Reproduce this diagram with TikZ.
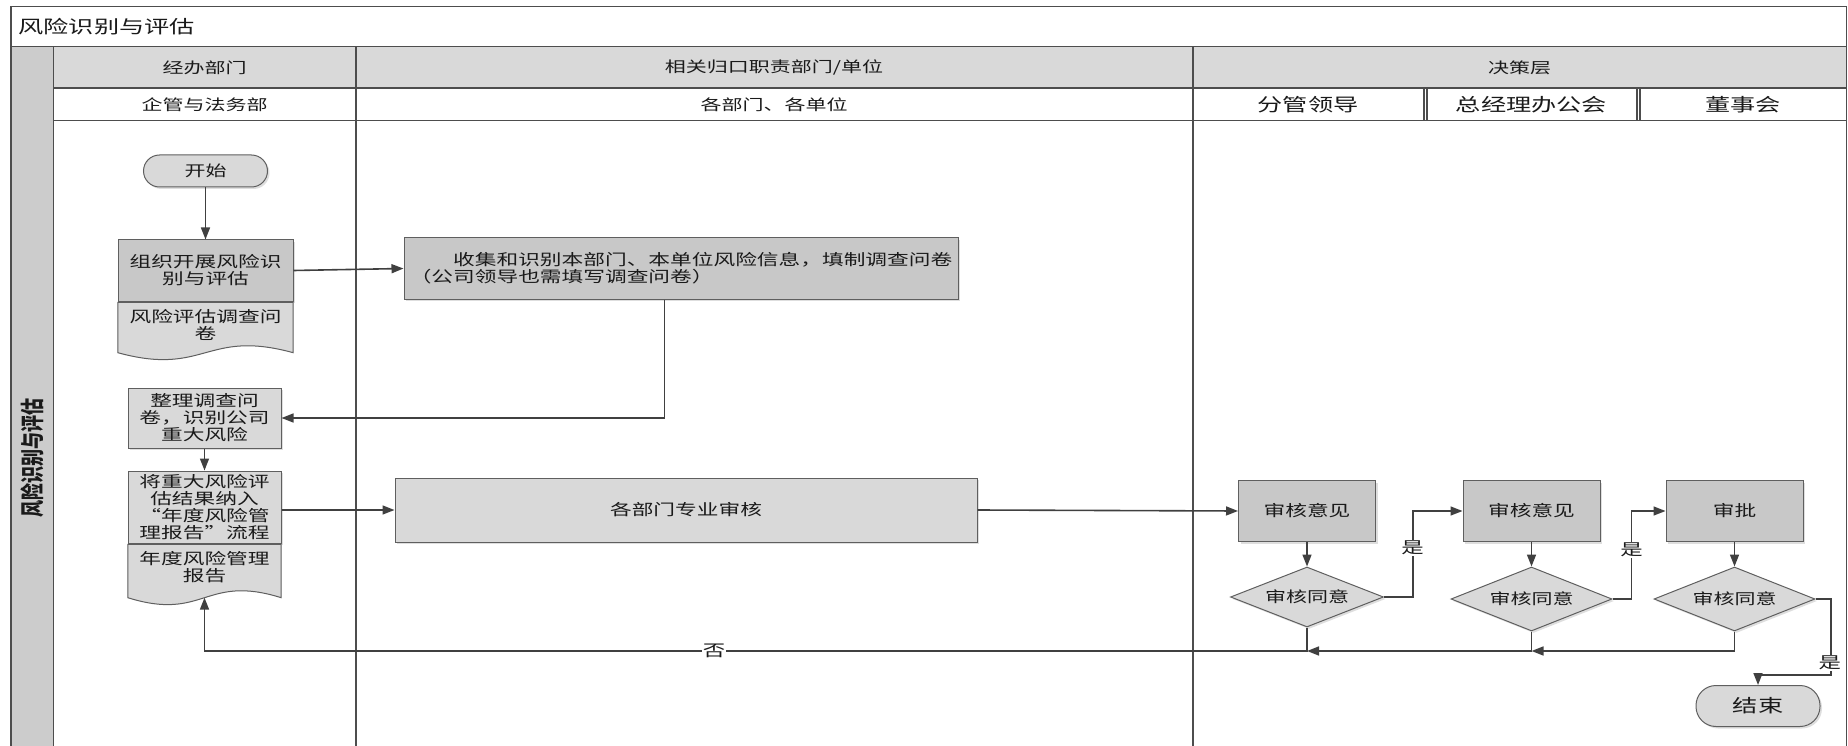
\documentclass[tikz,border=0pt]{standalone}
\usepackage{fontspec}
\usetikzlibrary{arrows.meta,shapes.geometric,shadows,calc}
\newfontfamily\zh[FakeStretch=1.4]{Noto Sans CJK SC}
\newfontfamily\zhn{Noto Sans CJK SC}
\definecolor{laneC}{HTML}{4D4D4D}
\definecolor{hdrC}{HTML}{D9D9D9}
\definecolor{bandC}{HTML}{CCCCCC}
\definecolor{darkC}{HTML}{C8C8C8}
\definecolor{lightC}{HTML}{D9D9D9}
\definecolor{edgeC}{HTML}{5F5F5F}
\definecolor{flowC}{HTML}{404040}
\definecolor{txtC}{HTML}{1A1A1A}

% document symbol outline with a wavy lower edge
\newcommand\docoutline[1]{(#1.north west) -- (#1.north east) -- (#1.south east)
  .. controls ($(#1.south)+(0,-24)$) and ($(#1.south)+(0,24)$) .. (#1.south west) -- cycle}

\tikzset{
  lane/.style={draw=laneC, line width=1.6pt},
  cell/.style={draw=laneC, line width=1.2pt},
  hdrtxt/.style={text=txtC, font=\zh\fontsize{15}{17}\selectfont},
  subtxt/.style={text=txtC, font=\zh\fontsize{18}{20}\selectfont},
  shade/.style={drop shadow={shadow xshift=2pt, shadow yshift=-2pt, fill=black, opacity=0.13}},
  box/.style={rectangle, draw=edgeC, line width=1pt, inner sep=2pt, align=center,
    text=txtC, font=\zh\fontsize{15.5}{17}\selectfont, shade},
  darkbox/.style={box, fill=darkC},
  lightbox/.style={box, fill=lightC},
  docnode/.style={rectangle, inner sep=2pt, align=center, text=txtC,
    font=\zh\fontsize{15.5}{17}\selectfont},
  docshape/.style={draw=edgeC, line width=1pt, fill=lightC},
  docshadow/.style={fill=black, opacity=0.13, draw=none},
  decision/.style={diamond, aspect=2.5, draw=edgeC, line width=1pt, fill=lightC, inner sep=0pt,
    text=txtC, font=\zh\fontsize{15}{17}\selectfont, shade},
  terminal/.style={rectangle, rounded corners=16pt, draw=edgeC, line width=1pt, fill=lightC,
    text=txtC, shade},
  flow/.style={draw=flowC, line width=1.6pt, -{Triangle[length=12pt,width=9pt]}},
  lbl/.style={fill=white, inner sep=1pt, text=txtC, font=\zh\fontsize{16}{18}\selectfont},
}

\begin{document}
\begin{tikzpicture}[x=1pt,y=-1pt]
\useasboundingbox (0,0) rectangle (1848,746);

% ---- swimlane frame ----
\fill[bandC] (10.7,46.7) rectangle (53.4,746);
\fill[hdrC] (53.4,46.7) rectangle (1846.5,88.3);
\draw[lane] (10.7,746) -- (10.7,6.7) -- (1846.5,6.7) -- (1846.5,746);
\draw[lane] (10.7,46.7) -- (1846.5,46.7);
\draw[lane] (53.4,46.7) -- (53.4,746);
\draw[lane] (53.4,88.3) -- (1846.5,88.3);
\draw[lane] (53.4,120.7) -- (1846.5,120.7);
\draw[lane] (355.7,46.7) -- (355.7,746);
\draw[lane] (1192.8,46.7) -- (1192.8,746);
% sub-cells of the decision lane
\draw[cell] (1424,88.3) -- (1424,120.7);
\draw[cell] (1427,88.3) -- (1427,120.7);
\draw[cell] (1637,88.3) -- (1637,120.7);
\draw[cell] (1640,88.3) -- (1640,120.7);

% ---- headings ----
\node[anchor=west, text=txtC, font=\zh\fontsize{18}{20}\selectfont] (title) at (15,27) {风险识别与评估};
\node[rotate=90, text=txtC, font=\zhn\bfseries\fontsize{17}{19}\selectfont] (bandlbl) at (32,458)
  {\scalebox{1}[1.4]{风险识别与评估}};
\node[hdrtxt] (h1) at (204.5,67.5) {经办部门};
\node[hdrtxt] (h2) at (774,67.5) {相关归口职责部门/单位};
\node[hdrtxt] (h3) at (1519.6,67.5) {决策层};
\node[hdrtxt] (s1) at (204.5,104.5) {企管与法务部};
\node[hdrtxt] (s2) at (774,104.5) {各部门、各单位};
\node[subtxt] (s3) at (1308,104.5) {分管领导};
\node[subtxt] (s4) at (1531.5,104.5) {总经理办公会};
\node[subtxt] (s5) at (1743,104.5) {董事会};

% ---- process nodes ----
\node[terminal, minimum width=124pt, minimum height=32pt, font=\zh\fontsize{15}{17}\selectfont]
  (start) at (205.5,171) {开始};
\node[darkbox, minimum width=175pt, minimum height=61pt] (a1) at (205.5,270.5)
  {组织开展风险识\\别与评估};
\node[docnode, minimum width=175pt, minimum height=50pt] (doc1) at (205.5,327.5) {};
\node[darkbox, minimum width=554pt, minimum height=61pt, align=left] (b1) at (681,268.5)
  {　　收集和识别本部门、本单位风险信息，填制调查问卷\\（公司领导也需填写调查问卷）};
\node[lightbox, minimum width=153pt, minimum height=60pt] (a2) at (204.5,418)
  {整理调查问\\卷，识别公司\\重大风险};
\node[lightbox, minimum width=153pt, minimum height=72pt] (a3) at (204.5,507)
  {将重大风险评\\估结果纳入\\“年度风险管\\理报告”流程};
\node[docnode, minimum width=153pt, minimum height=53pt] (doc2) at (204.5,571) {};
\node[lightbox, minimum width=582pt, minimum height=64pt] (b2) at (686,510) {各部门专业审核};

\node[darkbox, minimum width=137pt, minimum height=61pt] (c1) at (1307,511) {审核意见};
\node[darkbox, minimum width=137pt, minimum height=61pt] (c2) at (1531.5,511) {审核意见};
\node[darkbox, minimum width=137pt, minimum height=61pt] (c3) at (1734.5,511) {审批};
\node[decision, minimum width=153pt, minimum height=60pt] (d1) at (1307,597) {审核同意};
\node[decision, minimum width=161pt, minimum height=64pt] (d2) at (1531.5,599) {审核同意};
\node[decision, minimum width=161pt, minimum height=64pt] (d3) at (1734.5,599) {审核同意};
\node[terminal, minimum width=124pt, minimum height=41pt, rounded corners=20pt,
  font=\zh\fontsize{18}{20}\selectfont] (end) at (1758,706) {结束};

% document symbols (shadow, outline, then text on top)
\fill[docshadow, xshift=2pt, yshift=-2pt] \docoutline{doc1};
\fill[docshadow, xshift=2pt, yshift=-2pt] \docoutline{doc2};
\draw[docshape] \docoutline{doc1};
\draw[docshape] \docoutline{doc2};
\node[docnode] (doc1t) at ([yshift=3pt]doc1.center) {风险评估调查问\\卷};
\node[docnode] (doc2t) at ([yshift=4pt]doc2.center) {年度风险管理\\报告};

% ---- connectors ----
\coordinate (noline) at (0,651);
\draw[flow] (start) -- (a1);
\draw[flow] (a1.east) -- (b1.west);
\draw[flow] ([xshift=-16.4pt]b1.south) |- (a2.east);
\draw[flow] (a2) -- (a3);
\draw[flow] (a3.east |- b2.west) -- (b2.west);
\draw[flow] (b2.east) -- (c1.west);
\draw[flow] (c1) -- (d1);
\draw[flow] (c2) -- (d2);
\draw[flow] (c3) -- (d3);
\draw[flow] (d1.east) -- ++(29,0) |- (c2.west);
\draw[flow] (d2.east) -- ++(19,0) |- (c3.west);
\draw[flow] (d3.east) -- ++(15.3,0) |- ($(end.north)+(0,-10)$) -- (end.north);
\draw[flow] (d3.south) |- (d2.south |- noline);
\draw[flow] (d2.south) |- (d1.south |- noline);
\draw[flow] (d1.south) |- (doc2.south |- noline) -- (doc2.south);

% branch labels
\node[lbl] (yes1) at (1412.5,548) {是};
\node[lbl] (yes2) at (1631.5,550) {是};
\node[lbl] (yes3) at (1829.8,663) {是};
\node[lbl] (no1) at (714,651) {否};
\end{tikzpicture}
\end{document}
